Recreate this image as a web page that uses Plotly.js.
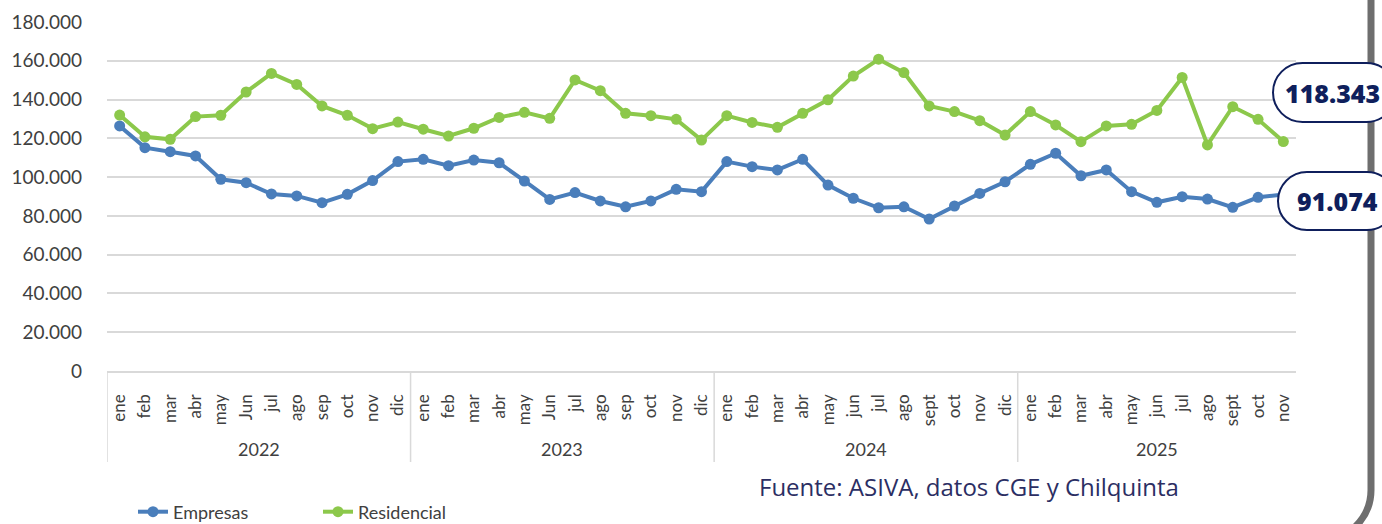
<!DOCTYPE html>
<html>
<head>
<meta charset="utf-8">
<script src="https://cdn.plot.ly/plotly-3.0.1.min.js"></script>
<style>
  html, body { margin: 0; padding: 0; background: #ffffff; }
  #chart { width: 1382px; height: 524px; }
</style>
</head>
<body>
<div id="chart"></div>
<script>
// ---------------- data ----------------
const years = ["2022", "2023", "2024", "2025"];
const months2022 = ["ene","feb","mar","abr","may","Jun","jul","ago","sep","oct","nov","dic"];
const months2023 = ["ene","feb","mar","abr","may","Jun","jul","ago","sep","oct","nov","dic"];
const months2024 = ["ene","feb","mar","abr","may","jun","jul","ago","sept","oct","nov","dic"];
const months2025 = ["ene","feb","mar","abr","may","jun","jul","ago","sept","oct","nov"];

const empresas2022 = [126400,115200,113100,110900,98900,97100,91300,90300,86800,91100,98200,108000];
const empresas2023 = [109200,105900,108800,107400,98000,88500,92000,87700,84700,87700,93700,92500];
const empresas2024 = [108000,105400,103700,109200,95900,89100,84200,84700,78400,85100,91600,97600];
const empresas2025 = [106600,112300,100700,103700,92500,87000,89900,88700,84400,89600,91074];

const residencial2022 = [132000,120800,119500,131200,131900,143900,153500,147800,136700,131900,125000,128400];
const residencial2023 = [124700,121200,125200,130800,133400,130300,150100,144600,132900,131700,129800,119100];
const residencial2024 = [131700,128200,125700,132900,139900,152100,160800,153900,136700,133800,129100,121700];
const residencial2025 = [133800,126900,118300,126400,127200,134400,151400,116600,136300,129800,118343];

const sourceText = "Fuente: ASIVA, datos CGE y Chilquinta";

// ---------------- build ----------------
const monthGroups = [months2022, months2023, months2024, months2025];
const xKeys = [], xLabels = [], groupStart = [], groupLen = [];
monthGroups.forEach((g, i) => {
  groupStart.push(xKeys.length); groupLen.push(g.length);
  g.forEach(m => { xKeys.push(years[i] + "-" + m); xLabels.push(m); });
});
const empresas = [].concat(empresas2022, empresas2023, empresas2024, empresas2025);
const residencial = [].concat(residencial2022, residencial2023, residencial2024, residencial2025);

const fmt = v => Math.round(v).toString().replace(/\B(?=(\d{3})+(?!\d))/g, ".");

const W = 1382, H = 524;
const M = { l: 107, r: 86, t: 22, b: 153, autoexpand: false };
const PW = W - M.l - M.r, PH = H - M.t - M.b;
const fx = px => (px - M.l) / PW;
const fy = py => (M.t + PH - py) / PH;
const P = (x, y) => fx(x).toFixed(5) + "," + fy(y).toFixed(5);

function pill(x0, y0, x1, y1) {
  const r = (y1 - y0) / 2, k = 0.5523 * r;
  return "M" + P(x0 + r, y0) + " L" + P(x1 - r, y0) +
    " C" + P(x1 - r + k, y0) + " " + P(x1, y0 + r - k) + " " + P(x1, y0 + r) +
    " C" + P(x1, y0 + r + k) + " " + P(x1 - r + k, y1) + " " + P(x1 - r, y1) +
    " L" + P(x0 + r, y1) +
    " C" + P(x0 + r - k, y1) + " " + P(x0, y0 + r + k) + " " + P(x0, y0 + r) +
    " C" + P(x0, y0 + r - k) + " " + P(x0 + r - k, y0) + " " + P(x0 + r, y0) + " Z";
}

const blue = "#4a7ebb", green = "#8cc84b", navy = "#0f1f5c", grid = "#d9d9d9";

const traces = [
  { type: "scatter", mode: "lines+markers", name: "Empresas",
    x: xKeys, y: empresas,
    line: { color: blue, width: 4 }, marker: { color: blue, size: 11 } },
  { type: "scatter", mode: "lines+markers", name: "Residencial",
    x: xKeys, y: residencial,
    line: { color: green, width: 4 }, marker: { color: green, size: 11 } }
];

// group dividers and year labels
const shapes = [];
groupStart.forEach(s => {
  shapes.push({ type: "line", xref: "x", yref: "paper", x0: s - 0.5, x1: s - 0.5,
    y0: 0, y1: fy(462), line: { color: grid, width: 1.5 }, layer: "below" });
});
const annotations = years.map((yr, i) => ({
  xref: "x", yref: "paper", x: groupStart[i] + (groupLen[i] - 1) / 2, y: fy(449),
  xanchor: "center", yanchor: "middle", text: yr, showarrow: false,
  font: { family: "Lato", size: 18, color: "#404040" }
}));

shapes.push(
  { type: "path", xref: "paper", yref: "paper", layer: "above",
    path: "M" + P(1371, -10) + " L" + P(1371, 490) + " C" + P(1371, 518) + " " + P(1348, 541) + " " + P(1320, 541),
    line: { color: "#6e6e6e", width: 7 } },
  { type: "path", xref: "paper", yref: "paper", layer: "above",
    path: pill(1273, 63, 1396, 122), fillcolor: "#ffffff", line: { color: navy, width: 2 } },
  { type: "path", xref: "paper", yref: "paper", layer: "above",
    path: pill(1278, 172, 1396, 230), fillcolor: "#ffffff", line: { color: navy, width: 2 } }
);
annotations.push(
  { xref: "paper", yref: "paper", x: fx(1332), y: fy(92.5), xanchor: "center", yanchor: "middle",
    text: fmt(residencial[residencial.length - 1]), showarrow: false,
    font: { family: "Open Sans", size: 25, color: navy, weight: 800 } },
  { xref: "paper", yref: "paper", x: fx(1337), y: fy(201), xanchor: "center", yanchor: "middle",
    text: fmt(empresas[empresas.length - 1]), showarrow: false,
    font: { family: "Open Sans", size: 25, color: navy, weight: 800 } },
  { xref: "paper", yref: "paper", x: fx(969), y: fy(486), xanchor: "center", yanchor: "middle",
    text: sourceText, showarrow: false,
    font: { family: "Open Sans", size: 24, color: "#2b2e63" } }
);

const layout = {
  width: W, height: H,
  margin: M,
  paper_bgcolor: "#ffffff", plot_bgcolor: "#ffffff",
  separators: ",.",
  showlegend: true,
  legend: {
    orientation: "h", x: fx(133), xanchor: "left", y: fy(512), yanchor: "middle",
    font: { family: "Lato", size: 18, color: "#404040" },
    entrywidth: 140, entrywidthmode: "pixels", bgcolor: "rgba(0,0,0,0)"
  },
  xaxis: {
    type: "category", categoryorder: "array", categoryarray: xKeys,
    tickvals: xKeys, ticktext: xLabels,
    range: [-0.5, xKeys.length - 0.5], automargin: false,
    showgrid: false, showline: true, linecolor: grid, linewidth: 1.5,
    ticks: "", tickangle: -90, ticklabelstandoff: 15,
    tickfont: { family: "Lato", size: 17, color: "#404040" }
  },
  yaxis: {
    range: [0, 180000], dtick: 20000, tickformat: ",d", automargin: false,
    showgrid: true, gridcolor: grid, gridwidth: 2,
    zeroline: false, showline: false, ticks: "",
    ticklabelstandoff: 24,
    tickfont: { family: "Lato", size: 19, color: "#404040" }
  },
  shapes: shapes,
  annotations: annotations
};

Plotly.newPlot("chart", traces, layout, { displayModeBar: false, staticPlot: true });
</script>
</body>
</html>
